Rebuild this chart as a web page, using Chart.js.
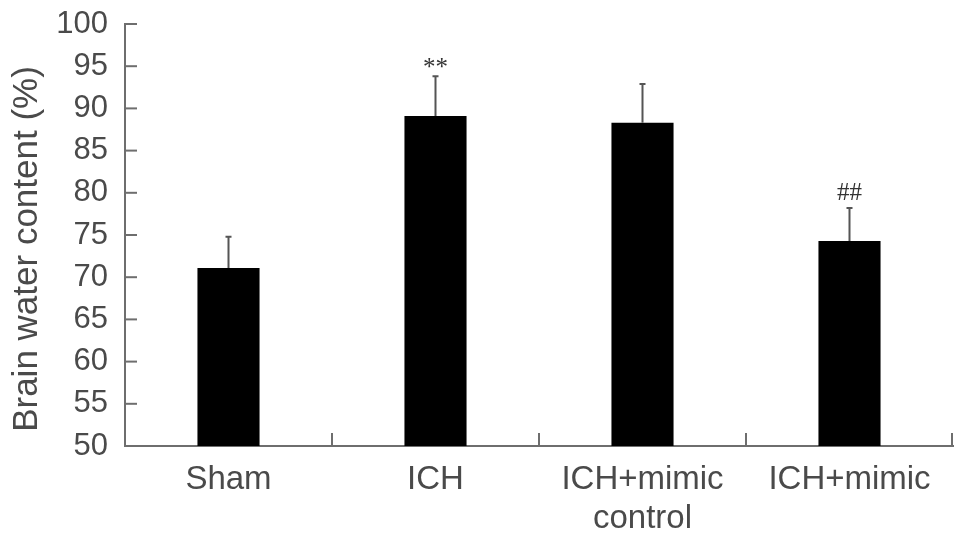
<!DOCTYPE html>
<html>
<head>
<meta charset="utf-8">
<script src="https://cdn.jsdelivr.net/npm/chart.js@4.4.0/dist/chart.umd.min.js"></script>
<style>
html,body{margin:0;padding:0;background:#fff;}
#wrap{width:969px;height:544px;position:relative;}
</style>
</head>
<body>
<div id="wrap"><canvas id="c" width="969" height="544"></canvas></div>
<script>
const categories = ['Sham', 'ICH', ['ICH+mimic', 'control'], 'ICH+mimic'];
const values = [71.1, 89.1, 88.3, 74.3];
const errors = [3.7, 4.7, 4.6, 3.9];
const marks = ['', '**', '', '##'];
const yTitle = 'Brain water content (%)';

const AXIS = '#6e6e6e';
const TEXT = '#4a4a4a';

const customDraw = {
  id: 'customDraw',
  afterDatasetsDraw(chart) {
    const ctx = chart.ctx;
    const x = chart.scales.x, y = chart.scales.y;
    const meta = chart.getDatasetMeta(0);
    ctx.save();
    ctx.strokeStyle = '#555';
    ctx.lineWidth = 2;
    meta.data.forEach((bar, i) => {
      const top = y.getPixelForValue(values[i] + errors[i]);
      ctx.beginPath();
      ctx.moveTo(bar.x, bar.y);
      ctx.lineTo(bar.x, top);
      ctx.moveTo(bar.x - 3, top);
      ctx.lineTo(bar.x + 3, top);
      ctx.stroke();
      if (marks[i]) {
        ctx.font = '25px "Liberation Serif"';
        ctx.fillStyle = '#333';
        ctx.textAlign = 'center';
        ctx.textBaseline = 'alphabetic';
        const m = ctx.measureText(marks[i]);
        ctx.fillText(marks[i], bar.x, top - 8 - m.actualBoundingBoxDescent);
      }
    });
    ctx.strokeStyle = AXIS;
    ctx.lineWidth = 2;
    y.ticks.forEach(t => {
      const py = y.getPixelForValue(t.value);
      ctx.beginPath();
      ctx.moveTo(x.left, py);
      ctx.lineTo(x.left + 12, py);
      ctx.stroke();
    });
    const n = categories.length;
    for (let i = 0; i < n; i++) {
      const px = i < n - 1 ? (x.getPixelForValue(i) + x.getPixelForValue(i + 1)) / 2 : x.right - 1;
      ctx.beginPath();
      ctx.moveTo(px, y.bottom);
      ctx.lineTo(px, y.bottom - 13);
      ctx.stroke();
    }
    ctx.translate(37, 249);
    ctx.rotate(-Math.PI / 2);
    ctx.font = '35px "Liberation Sans"';
    ctx.fillStyle = TEXT;
    ctx.textAlign = 'center';
    ctx.textBaseline = 'alphabetic';
    ctx.fillText(yTitle, 0, 0);
    ctx.restore();
  }
};

new Chart(document.getElementById('c'), {
  type: 'bar',
  data: {
    labels: categories,
    datasets: [{
      data: values,
      backgroundColor: '#000',
      borderColor: '#000',
      borderWidth: 0,
      barPercentage: 0.30,
      categoryPercentage: 1.0
    }]
  },
  options: {
    responsive: false,
    animation: false,
    devicePixelRatio: 1,
    layout: { padding: { top: 24, right: 16, left: 0, bottom: 0 } },
    plugins: { legend: { display: false }, tooltip: { enabled: false } },
    scales: {
      x: {
        grid: { display: false, drawTicks: false },
        border: { display: true, color: AXIS, width: 2 },
        ticks: {
          color: TEXT,
          font: { family: 'Liberation Sans', size: 33 },
          padding: 14,
          maxRotation: 0,
          autoSkip: false
        },
        afterFit(s) { s.height = 98; s.paddingLeft = 0; s.paddingRight = 0; }
      },
      y: {
        min: 50, max: 100,
        grid: { display: false, drawTicks: false },
        border: { display: true, color: AXIS, width: 2 },
        ticks: {
          stepSize: 5,
          color: TEXT,
          font: { family: 'Liberation Sans', size: 31 },
          padding: 17
        },
        afterFit(s) { s.width = 125; s.paddingTop = 0; s.paddingBottom = 0; }
      }
    }
  },
  plugins: [customDraw]
});
</script>
</body>
</html>
